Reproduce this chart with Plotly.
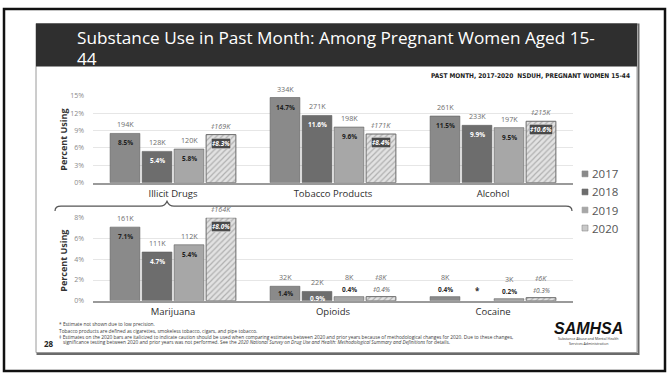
import plotly.graph_objects as go

W, H = 667, 378


def px(x):
    return x / W


def py(y):
    return 1 - y / H


# ---------------- data ----------------
years = ["2017", "2018", "2019", "2020"]

top_categories = ["Illicit Drugs", "Tobacco Products", "Alcohol"]
top_pct_2017 = [8.5, 14.7, 11.5]
top_pct_2018 = [5.4, 11.6, 9.9]
top_pct_2019 = [5.8, 9.6, 9.5]
top_pct_2020 = [8.3, 8.4, 10.6]
top_count_2017 = ["194K", "334K", "261K"]
top_count_2018 = ["128K", "271K", "233K"]
top_count_2019 = ["120K", "198K", "197K"]
top_count_2020 = ["‡169K", "‡171K", "‡215K"]

bottom_categories = ["Marijuana", "Opioids", "Cocaine"]
bottom_pct_2017 = [7.1, 1.4, 0.4]
bottom_pct_2018 = [4.7, 0.9, None]
bottom_pct_2019 = [5.4, 0.4, 0.2]
bottom_pct_2020 = [8.0, 0.4, 0.3]
bottom_count_2017 = ["161K", "32K", "8K"]
bottom_count_2018 = ["111K", "22K", ""]
bottom_count_2019 = ["112K", "8K", "3K"]
bottom_count_2020 = ["‡164K", "‡8K", "‡6K"]

top_pct = [top_pct_2017, top_pct_2018, top_pct_2019, top_pct_2020]
top_count = [top_count_2017, top_count_2018, top_count_2019, top_count_2020]
bottom_pct = [bottom_pct_2017, bottom_pct_2018, bottom_pct_2019, bottom_pct_2020]
bottom_count = [bottom_count_2017, bottom_count_2018, bottom_count_2019, bottom_count_2020]

top_ticks = [0, 3, 6, 9, 12, 15]
bottom_ticks = [0, 2, 4, 6, 8]

# ---------------- styling ----------------
FONT = "Open Sans, Noto Sans, DejaVu Sans, sans-serif"
bar_colors = ["#8a8a8a", "#6d6d6d", "#a7a7a7", "#d8d8d8"]
pct_text_colors = ["#1e1e1e", "#ffffff", "#1e1e1e", "#ffffff"]
bar_offsets = [-48, -16, 16, 48]  # px from category centre for each year's bar


def bar_marker(j):
    if years[j] == "2020":
        return dict(
            color="#dcdcdc",
            pattern=dict(shape="/", fgcolor="#7c7c7c", bgcolor="#e2e2e2", size=4, solidity=0.3),
            line=dict(color="#6a6a6a", width=1),
        )
    return dict(color=bar_colors[j], line=dict(color="#5e5e5e", width=0.6))


fig = go.Figure()

panels = [
    ("x", "y", top_categories, top_pct, top_count),
    ("x2", "y2", bottom_categories, bottom_pct, bottom_count),
]

annotations = []

for xa, ya, cats, pcts, counts in panels:
    for j, yr in enumerate(years):
        fig.add_trace(
            go.Bar(
                x=cats,
                y=pcts[j],
                name=yr,
                xaxis=xa,
                yaxis=ya,
                marker=bar_marker(j),
                showlegend=False,
                hoverinfo="skip",
            )
        )
        for i, cat in enumerate(cats):
            v = pcts[j][i]
            italic = yr == "2020"
            prefix = "‡" if italic else ""
            if v is None:
                annotations.append(dict(
                    x=cat, y=0, xref=xa, yref=ya, xshift=bar_offsets[j], yshift=3,
                    text="<b>*</b>", showarrow=False, yanchor="bottom",
                    font=dict(family=FONT, size=8, color="#333333"),
                ))
                continue
            pct_label = f"{prefix}{v:.1f}%"
            if italic:
                pct_label = f"<i>{pct_label}</i>"
            count_label = f"<i>{counts[j][i]}</i>" if italic else counts[j][i]
            inside = v >= 0.9
            if inside:
                box = dict(bgcolor="#4a4a4a", bordercolor="#f0f0f0", borderwidth=0.5, borderpad=0.5) if italic else {}
                annotations.append(dict(
                    x=cat, y=v, xref=xa, yref=ya, xshift=bar_offsets[j],
                    yshift=-3 if v >= 2 else -0.5,
                    text=f"<b>{pct_label}</b>", showarrow=False, yanchor="top",
                    font=dict(family=FONT, size=6.5, color=pct_text_colors[j]), **box,
                ))
                annotations.append(dict(
                    x=cat, y=v, xref=xa, yref=ya, xshift=bar_offsets[j], yshift=2,
                    text=count_label, showarrow=False, yanchor="bottom",
                    font=dict(family=FONT, size=7.2, color="#6e6e6e"),
                ))
            else:
                annotations.append(dict(
                    x=cat, y=v, xref=xa, yref=ya, xshift=bar_offsets[j], yshift=1,
                    text=f"<b>{pct_label}</b>" if not italic else pct_label, showarrow=False,
                    yanchor="bottom",
                    font=dict(family=FONT, size=6.5, color="#2a2a2a" if not italic else "#555555"),
                ))
                annotations.append(dict(
                    x=cat, y=v, xref=xa, yref=ya, xshift=bar_offsets[j], yshift=13,
                    text=count_label, showarrow=False, yanchor="bottom",
                    font=dict(family=FONT, size=7.2, color="#6e6e6e"),
                ))

axis_common = dict(
    type="category",
    showgrid=False,
    showline=True,
    linecolor="#9a9a9a",
    linewidth=1.5,
    ticks="",
    tickfont=dict(family=FONT, size=9.5, color="#2e2e2e"),
    ticklabelstandoff=1,
    fixedrange=True,
)
yaxis_common = dict(
    showgrid=True,
    gridcolor="#e6e6e6",
    gridwidth=1,
    zeroline=False,
    ticks="",
    tickmode="array",
    tickfont=dict(family=FONT, size=7, color="#8a8a8a"),
    ticklabelstandoff=8,
    showline=False,
    fixedrange=True,
)

fig.update_layout(
    width=W,
    height=H,
    margin=dict(l=0, r=0, t=0, b=0),
    paper_bgcolor="#ffffff",
    plot_bgcolor="rgba(0,0,0,0)",
    barmode="group",
    bargap=0.2,
    bargroupgap=0.07,
    showlegend=False,
    xaxis=dict(domain=[px(93), px(573)], anchor="y", **axis_common),
    yaxis=dict(domain=[py(182), py(93)], range=[0, 15], tickvals=top_ticks,
               ticktext=[f"{t}%" for t in top_ticks], anchor="x", **yaxis_common),
    xaxis2=dict(domain=[px(93), px(573)], anchor="y2", **axis_common),
    yaxis2=dict(domain=[py(303), py(218)], range=[0, 8], tickvals=bottom_ticks,
                ticktext=[f"{t}%" for t in bottom_ticks], anchor="x2", **yaxis_common),
)

shapes = []
# outer frame
shapes.append(dict(type="rect", xref="paper", yref="paper", x0=px(4), x1=px(665), y0=py(375), y1=py(4),
                   line=dict(color="#111111", width=2.5), fillcolor="rgba(0,0,0,0)", layer="below"))
# slide panel with shadowed edge
shapes.append(dict(type="rect", xref="paper", yref="paper", x0=px(37.5), x1=px(638.5), y0=py(357.5), y1=py(20),
                   line=dict(color="#6a6a6a", width=2), fillcolor="rgba(0,0,0,0)", layer="below"))
shapes.append(dict(type="rect", xref="paper", yref="paper", x0=px(36), x1=px(637), y0=py(356), y1=py(19),
                   line=dict(color="#9a9a9a", width=1), fillcolor="#ffffff", layer="below"))
# title band
shapes.append(dict(type="rect", xref="paper", yref="paper", x0=px(36), x1=px(637), y0=py(63), y1=py(19),
                   line=dict(width=0), fillcolor="#2f2f2f", layer="below"))


# brace linking the illicit-drug breakdown to its parent category
def P(x, y):
    return f"{px(x):.5f},{py(y):.5f}"


brace = (
    f"M {P(55, 211)} Q {P(55, 206)} {P(61, 206)} L {P(160, 206)} "
    f"Q {P(165, 206)} {P(167, 201)} Q {P(169, 206)} {P(174, 206)} "
    f"L {P(566, 206)} Q {P(572, 206)} {P(572, 211)}"
)
shapes.append(dict(type="path", xref="paper", yref="paper", path=brace,
                   line=dict(color="#555555", width=1.2)))

# legend swatches
legend_y = [173, 191.5, 210, 228.5]
for j, yr in enumerate(years):
    y0 = legend_y[j]
    shapes.append(dict(type="rect", xref="paper", yref="paper",
                       x0=px(582), x1=px(588), y0=py(y0 + 3), y1=py(y0 - 3),
                       fillcolor=bar_colors[j] if yr != "2020" else "#c9c9c9",
                       line=dict(color="#8a8a8a" if yr == "2020" else bar_colors[j], width=0.6)))
    annotations.append(dict(x=px(590), y=py(y0), xref="paper", yref="paper", text=yr,
                            showarrow=False, xanchor="left", yanchor="middle",
                            font=dict(family=FONT, size=11.5, color="#555555")))

fig.update_layout(shapes=shapes)

# title
annotations.append(dict(x=px(75), y=py(33), xref="paper", yref="paper",
                        text="Substance Use in Past Month: Among Pregnant Women Aged 15-",
                        showarrow=False, xanchor="left", yanchor="middle",
                        font=dict(family=FONT, size=17.2, color="#ffffff")))
annotations.append(dict(x=px(75), y=py(54.5), xref="paper", yref="paper", text="44",
                        showarrow=False, xanchor="left", yanchor="middle",
                        font=dict(family=FONT, size=17.2, color="#ffffff")))
annotations.append(dict(x=px(632), y=py(73), xref="paper", yref="paper",
                        text="<b>PAST MONTH, 2017-2020  NSDUH, PREGNANT WOMEN 15-44</b>",
                        showarrow=False, xanchor="right", yanchor="middle",
                        font=dict(family="Liberation Sans Narrow, DejaVu Sans Condensed, sans-serif",
                                  size=6.5, color="#222222")))

# y-axis titles
for yc in (138, 262):
    annotations.append(dict(x=px(64), y=py(yc), xref="paper", yref="paper", text="<b>Percent Using</b>",
                            showarrow=False, textangle=-90, xanchor="center", yanchor="middle",
                            font=dict(family=FONT, size=9, color="#333333")))

# footnotes
foot = [
    (57, 327, "* Estimate not shown due to low precision."),
    (57, 333.5, "Tobacco products are defined as cigarettes, smokeless tobacco, cigars, and pipe tobacco."),
    (57, 340, "‡ Estimates on the 2020 bars are italicized to indicate caution should be used when comparing "
              "estimates between 2020 and prior years because of methodological changes for 2020. Due to these changes,"),
    (61, 345.5, "significance testing between 2020 and prior years was not performed. See the <i>2020 National "
                "Survey on Drug Use and Health: Methodological Summary and Definitions</i> for details."),
]
for x, y, t in foot:
    annotations.append(dict(x=px(x), y=py(y), xref="paper", yref="paper", text=t,
                            showarrow=False, xanchor="left", yanchor="middle",
                            font=dict(family=FONT, size=4.8, color="#3a3a3a")))

annotations.append(dict(x=px(42), y=py(347), xref="paper", yref="paper", text="<b>28</b>",
                        showarrow=False, xanchor="left", yanchor="middle",
                        font=dict(family=FONT, size=8, color="#222222")))

# logo
annotations.append(dict(x=px(588), y=py(331), xref="paper", yref="paper", text="<b><i>SAMHSA</i></b>",
                        showarrow=False, xanchor="center", yanchor="middle",
                        font=dict(family="Liberation Sans, Arial, sans-serif", size=16, color="#111111")))
annotations.append(dict(x=px(588), y=py(342), xref="paper", yref="paper",
                        text="Substance Abuse and Mental Health",
                        showarrow=False, xanchor="center", yanchor="middle",
                        font=dict(family=FONT, size=3.6, color="#333333")))
annotations.append(dict(x=px(588), y=py(346.5), xref="paper", yref="paper",
                        text="Services Administration",
                        showarrow=False, xanchor="center", yanchor="middle",
                        font=dict(family=FONT, size=3.6, color="#333333")))

fig.update_layout(annotations=annotations)

fig.write_html("out.html")
